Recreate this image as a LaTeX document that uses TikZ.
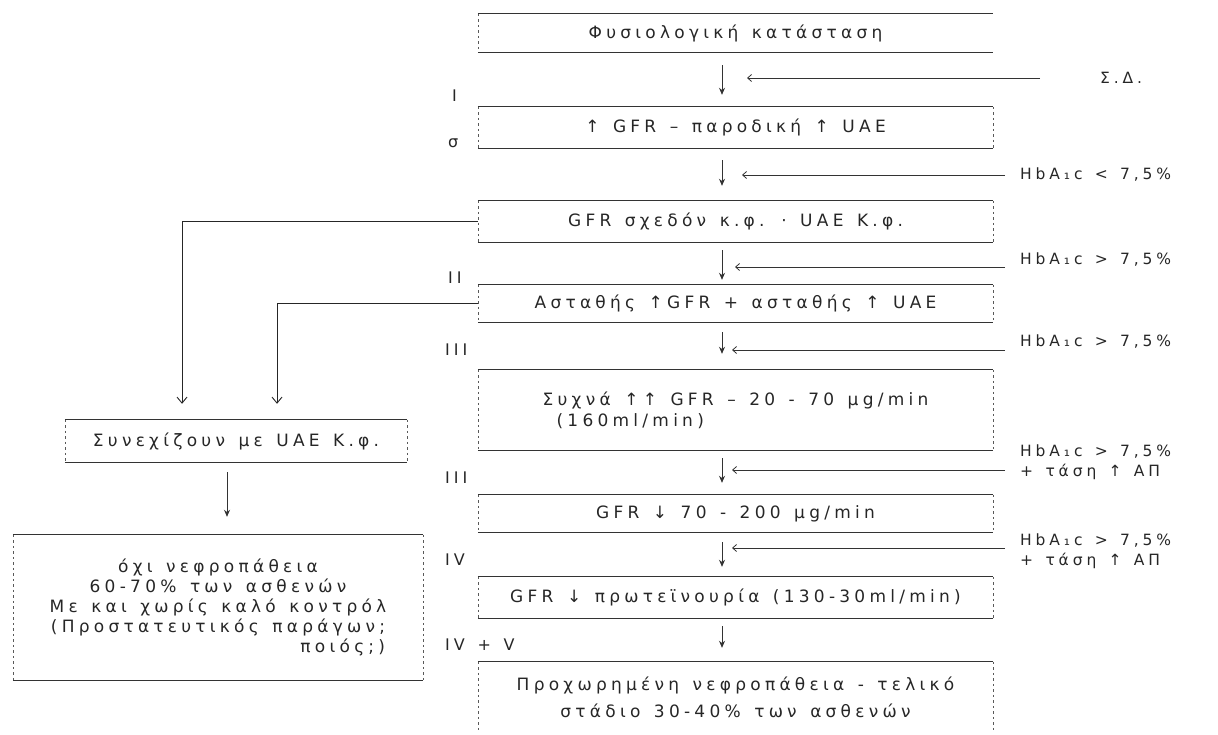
\documentclass[tikz,border=0pt]{standalone}
\usepackage{fontspec}
\usepackage{calc}
\setmainfont[LetterSpace=25,WordSpace=1.4]{DejaVu Sans}
\usetikzlibrary{arrows.meta}
\newcommand\boxedges[1]{%
  \draw[hline] (#1.north west)--(#1.north east);
  \draw[hline] (#1.south west)--(#1.south east);
  \draw[vline] (#1.north west)--(#1.south west);
  \draw[vline] (#1.north east)--(#1.south east);}
\tikzset{
  txt/.style={font=\fontsize{17}{21}\selectfont, text=black!85},
  cbox/.style={txt, inner sep=0pt, minimum width=515pt},
  hline/.style={line width=1.1pt, draw=black!80},
  vline/.style={line width=0.6pt, draw=black!65, dash pattern=on 2.5pt off 3pt},
  down/.style={line width=0.8pt, draw=black!80, -{Stealth[length=7pt,width=6pt]}},
  side/.style={line width=0.8pt, draw=black!80, -{Straight Barb[length=4pt,width=7pt]}},
  branch/.style={line width=0.9pt, draw=black!85, -{Straight Barb[length=6pt,width=10pt]}},
  lab/.style={txt, anchor=west, inner sep=0pt, font=\fontsize{16}{20}\selectfont},
  rt/.style={txt, anchor=west, inner sep=0pt, align=left, font=\fontsize{15.5}{20}\selectfont}
}
\begin{document}
\begin{tikzpicture}[x=1pt,y=-1pt]
\useasboundingbox (0,0) rectangle (1218,735);
% central boxes
\node[cbox, minimum height=38pt] (b1) at (735.5,33) {Φυσιολογική κατάσταση};
\node[cbox, minimum height=41pt] (b2) at (735.5,127.5) {↑ GFR – παροδική ↑ UAE};
\node[cbox, minimum height=41pt] (b3) at (735.5,221.5) {GFR σχεδόν κ.φ. · UAE Κ.φ.};
\node[cbox, minimum height=37pt] (b4) at (735.5,303.5) {Ασταθής ↑GFR + ασταθής ↑ UAE};
\node[cbox, minimum height=80pt, align=left] (b5) at (735.5,410) {Συχνά ↑↑ GFR – 20 - 70 μg/min\\\hspace*{14pt}(160ml/min)};
\node[cbox, minimum height=37pt] (b6) at (735.5,513.5) {GFR ↓ 70 - 200 μg/min};
\node[cbox, minimum height=41pt] (b7) at (735.5,597.5) {GFR ↓ πρωτεϊνουρία (130-30ml/min)};
\node[cbox, minimum height=70pt, align=center, font=\fontsize{17}{27}\selectfont] (b8) at (735.5,697) {Προχωρημένη νεφροπάθεια - τελικό\\στάδιο 30-40\% των ασθενών};
% box outlines
\draw[hline] (b1.north west)--(b1.north east);
\draw[hline] (b1.south west)--(b1.south east);
\draw[vline] (b1.north west)--(b1.south west);
\boxedges{b2}\boxedges{b3}\boxedges{b4}\boxedges{b5}\boxedges{b6}\boxedges{b7}
\draw[hline] (b8.north west)--(b8.north east);
\draw[vline] (b8.north west)--(b8.south west);
\draw[vline] (b8.north east)--(b8.south east);
% vertical arrows
\coordinate (ax) at (722,0);
\draw[down, shorten <=13pt, shorten >=12pt] (b1.south -| ax) -- (b2.north -| ax);
\draw[down, shorten <=12pt, shorten >=15pt] (b2.south -| ax) -- (b3.north -| ax);
\draw[down, shorten <=8pt, shorten >=5pt] (b3.south -| ax) -- (b4.north -| ax);
\draw[down, shorten <=10pt, shorten >=16pt] (b4.south -| ax) -- (b5.north -| ax);
\draw[down, shorten <=8pt, shorten >=12pt] (b5.south -| ax) -- (b6.north -| ax);
\draw[down, shorten <=10pt, shorten >=10pt] (b6.south -| ax) -- (b7.north -| ax);
\draw[down, shorten <=8pt, shorten >=14pt] (b7.south -| ax) -- (b8.north -| ax);
% side conditions
\coordinate (s1) at (1040,78);  \coordinate (e1) at (747,78);
\coordinate (s2) at (1005,175); \coordinate (e2) at (742,175);
\coordinate (s3) at (1005,267); \coordinate (e3) at (735,267);
\coordinate (s4) at (1005,350); \coordinate (e4) at (732,350);
\coordinate (s5) at (1005,470); \coordinate (e5) at (732,470);
\coordinate (s6) at (1005,548); \coordinate (e6) at (732,548);
\draw[side] (s1) -- (e1);
\draw[side] (s2) -- (e2);
\draw[side] (s3) -- (e3);
\draw[side] (s4) -- (e4);
\draw[side] (s5) -- (e5);
\draw[side] (s6) -- (e6);
\node[rt] (t1) at (1100,78) {Σ.Δ.};
\node[rt] (t2) at (1020,175) {HbA₁c < 7,5\%};
\node[rt] (t3) at (1020,260) {HbA₁c > 7,5\%};
\node[rt] (t4) at (1020,342) {HbA₁c > 7,5\%};
\node[rt] (t5) at (1020,462) {HbA₁c > 7,5\%\\+ τάση ↑ ΑΠ};
\node[rt] (t6) at (1020,551) {HbA₁c > 7,5\%\\+ τάση ↑ ΑΠ};
% stage labels
\node[lab] (r1) at (452,96) {I};
\node[lab] (r1b) at (448,143) {σ};
\node[lab] (r2) at (448,278) {II};
\node[lab] (r3) at (445,350) {III};
\node[lab] (r4) at (445,478) {III};
\node[lab] (r5) at (445,560) {IV};
\node[lab] (r6) at (445,645) {IV + V};
% left column
\node[txt, inner sep=0pt, minimum width=342pt, minimum height=42pt] (c1) at (236,441) {Συνεχίζουν με UAE Κ.φ.};
\boxedges{c1}
\node[txt, inner sep=0pt, minimum width=410pt, minimum height=145pt, align=center, font=\fontsize{17}{20}\selectfont] (l1) at (218,607.5)
  {όχι νεφροπάθεια\\60-70\% των ασθενών\\Με και χωρίς καλό κοντρόλ\\(Προστατευτικός παράγων;\\\makebox[\widthof{(Προστατευτικός παράγων;}][r]{ποιός;)}};
\boxedges{l1}
\coordinate (k1) at (182,0);
\coordinate (k2) at (277,0);
\coordinate (k3) at (227,0);
\draw[branch, shorten >=16pt] (b3.west) -| (k1 |- c1.north);
\draw[branch, shorten >=16pt] (b4.west) -| (k2 |- c1.north);
\draw[down, shorten <=10pt, shorten >=18pt] (c1.south -| k3) -- (l1.north -| k3);
\end{tikzpicture}
\end{document}
